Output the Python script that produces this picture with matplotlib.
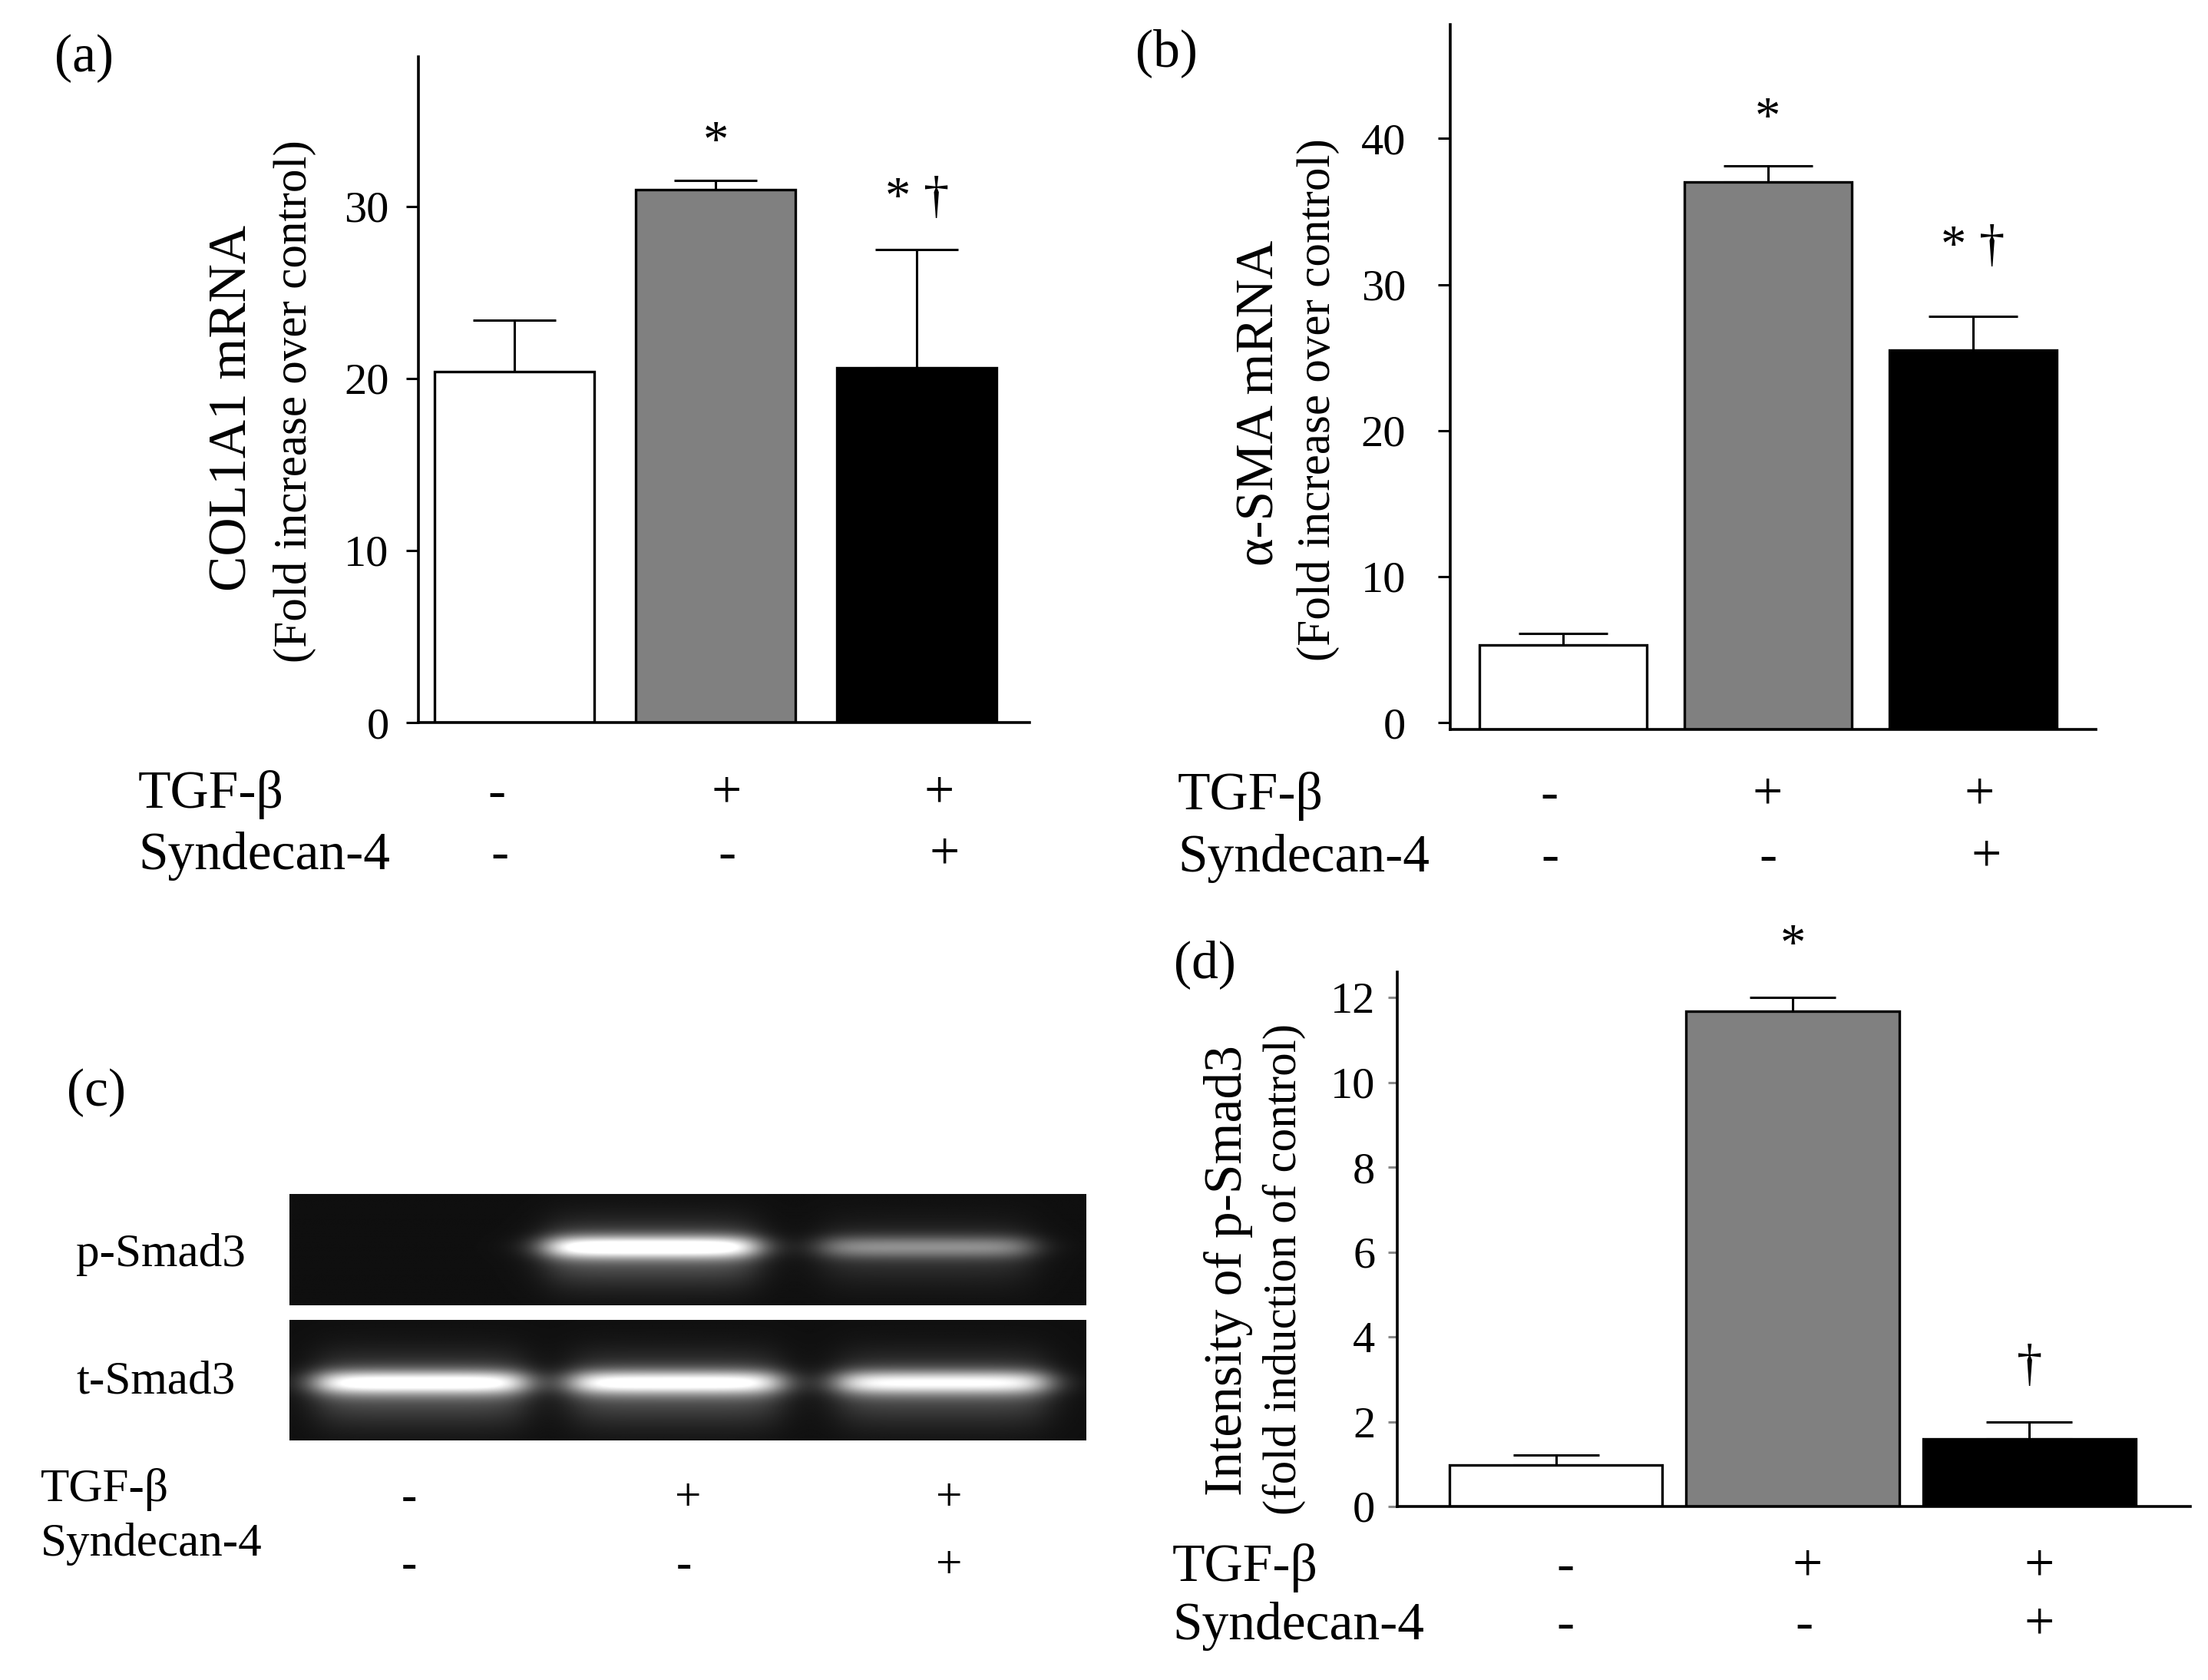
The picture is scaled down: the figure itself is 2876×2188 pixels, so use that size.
import numpy as np
import matplotlib
matplotlib.use("Agg")
import matplotlib.pyplot as plt

plt.rcParams['font.family'] = 'serif'
plt.rcParams['font.serif'] = ['Liberation Serif', 'DejaVu Serif']

# ---- data ----
tgf_signs = ['-', '+', '+']
syn_signs = ['-', '-', '+']
bar_colors = ['white', '#808080', 'black']

col1a1 = [20.4, 31.0, 20.6]
col1a1_err = [3.0, 0.5, 6.9]
col1a1_sig = ['', '*', '* \u2020']

sma = [5.3, 37.0, 25.5]
sma_err = [0.8, 1.1, 2.3]
sma_sig = ['', '*', '* \u2020']

psmad = [0.98, 11.67, 1.6]
psmad_err = [0.23, 0.33, 0.39]
psmad_sig = ['', '*', '\u2020']

# western blot band intensities (relative)
p_band = [0.0, 0.85, 0.38]
t_band = [0.8, 0.78, 0.72]

W, H = 2876, 2188
fig = plt.figure(figsize=(W / 200, H / 200), dpi=200)


def box(l, r, b, t):
    return [l / W, 1 - b / H, (r - l) / W, (b - t) / H]


def ftext(x, y, s, **kw):
    fig.text(x / W, 1 - y / H, s, **kw)


def bar_panel(rect, vals, errs, sigs, sig_y, xlim, ylim, yticks, width, cap,
              base=0.0, tick_color='black', tick_len=5.8, pad=8):
    ax = fig.add_axes(rect)
    x = np.arange(len(vals))
    v = np.array(vals)
    ax.bar(x, v - base, bottom=base, width=width, color=bar_colors,
           edgecolor='black', linewidth=1.2, zorder=2)
    ax.errorbar(x, v, yerr=[np.zeros(len(v)), errs], fmt='none', ecolor='black',
                elinewidth=1.1, capsize=cap, capthick=1.1, zorder=1)
    for xi, s, yy in zip(x, sigs, sig_y):
        if s:
            ax.text(xi, yy, s, ha='center', va='center', fontsize=24, clip_on=False)
    ax.set_xlim(*xlim)
    ax.set_ylim(*ylim)
    ax.set_xticks([])
    ax.set_yticks(yticks)
    ax.tick_params(axis='y', direction='out', length=tick_len, width=1.1,
                   color=tick_color, labelsize=21, pad=pad)
    for sp in ['top', 'right']:
        ax.spines[sp].set_visible(False)
    for sp in ['left', 'bottom']:
        ax.spines[sp].set_linewidth(1.3)
    return ax


def sign_rows(lab_x, y1, y2, xs1, xs2, size, sy1=None, sy2=None):
    sy1 = y1 if sy1 is None else sy1
    sy2 = y2 if sy2 is None else sy2
    ftext(lab_x, y1, 'TGF-\u03b2', fontsize=size, ha='left', va='center')
    ftext(lab_x, y2, 'Syndecan-4', fontsize=size, ha='left', va='center')
    for xs, ys, signs in [(xs1, sy1, tgf_signs), (xs2, sy2, syn_signs)]:
        for xx, s in zip(xs, signs):
            ftext(xx, ys, s, fontsize=size, ha='center', va='center')


# (a)
bar_panel(box(545, 1341, 941, 74), col1a1, col1a1_err, col1a1_sig, [0, 33.7, 30.4],
          (-0.477, 2.56), (0, 38.7), [0, 10, 20, 30], 0.795, 19.5, pad=8)
ftext(71, 76, '(a)', fontsize=25, ha='left', va='center')
ftext(304, 531, 'COL1A1 mRNA', fontsize=25, rotation=90, ha='center', va='center')
ftext(384, 523, '(Fold increase over control)', fontsize=22, rotation=90,
      ha='center', va='center')
sign_rows(180, 1035, 1115, [647, 946, 1223], [651, 947, 1230], 25)

# (b)
bar_panel(box(1889, 2730, 950, 32), sma, sma_err, sma_sig, [0, 41.3, 32.5],
          (-0.55, 2.6), (-0.47, 47.8), [0, 10, 20, 30, 40], 0.815, 21,
          base=-0.47, pad=15)
ftext(1479, 69, '(b)', fontsize=25, ha='left', va='center')
ftext(1642, 525, '\u03b1-SMA mRNA', fontsize=25, rotation=90, ha='center', va='center')
ftext(1717, 521, '(Fold increase over control)', fontsize=22, rotation=90,
      ha='center', va='center')
sign_rows(1534, 1037, 1118, [2018, 2302, 2578], [2019, 2303, 2587], 25)

# (d)
bar_panel(box(1820, 2853, 1962, 1266), psmad, psmad_err, psmad_sig, [0, 13.2, 3.28],
          (-0.67, 2.68), (0, 12.6), [0, 2, 4, 6, 8, 10, 12], 0.9, 20,
          tick_color='#888888', tick_len=4.3, pad=6)
ftext(1529, 1256, '(d)', fontsize=25, ha='left', va='center')
ftext(1600, 1655, 'Intensity of p-Smad3', fontsize=25, rotation=90, ha='center', va='center')
ftext(1673, 1653, '(fold induction of control)', fontsize=22, rotation=90,
      ha='center', va='center')
sign_rows(1527, 2042, 2118, [2039, 2354, 2656], [2039, 2350, 2656], 25)


# (c) blot
def blot(rect, bands, centers, yc):
    ax = fig.add_axes(rect)
    xx = np.linspace(0, 1, 900)
    yy = np.linspace(0, 1, 150)
    img = np.full((len(yy), len(xx)), 0.06)
    for inten, c in zip(bands, centers):
        hprof = 0.5 * (np.tanh((xx - (c - 0.13)) / 0.03) - np.tanh((xx - (c + 0.13)) / 0.03))
        vprof = (np.exp(-0.5 * ((yy - yc) / 0.07) ** 2)
                 + 0.35 * np.exp(-0.5 * ((yy - yc - 0.06) / 0.2) ** 2))
        img += inten * np.outer(vprof, hprof)
    ax.imshow(img, cmap='gray', vmin=0, vmax=1, aspect='auto', extent=[0, 1, 1, 0])
    ax.set_axis_off()
    return ax


blot(box(377, 1415, 1700, 1555), p_band, [0.16, 0.455, 0.80], 0.48)
blot(box(377, 1415, 1876, 1719), t_band, [0.165, 0.485, 0.82], 0.52)
ftext(87, 1423, '(c)', fontsize=25, ha='left', va='center')
ftext(99, 1634, 'p-Smad3', fontsize=22, ha='left', va='center')
ftext(99, 1800, 't-Smad3', fontsize=22, ha='left', va='center')
sign_rows(53, 1940, 2011, [533, 896, 1236], [533, 891, 1236], 22, sy1=1952, sy2=2040)

fig.savefig('out.png', dpi=200, facecolor='white')
